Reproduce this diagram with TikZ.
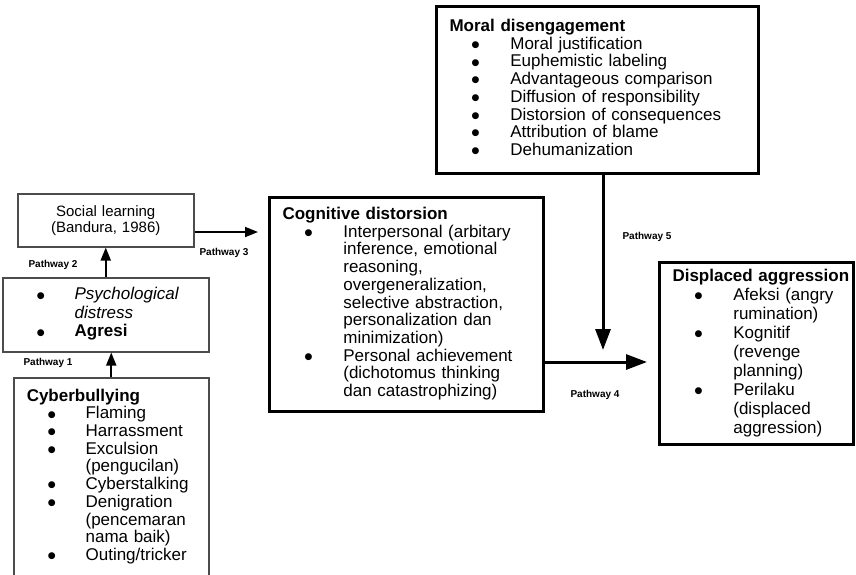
\documentclass[tikz,border=0pt]{standalone}
\usepackage{fontspec}
\setmainfont{Liberation Sans}
\newfontfamily\symfont{DejaVu Sans}
\usetikzlibrary{arrows.meta}

\newcommand{\mainsize}{\fontsize{17}{17.7}\selectfont}
\newcommand{\bul}{\raisebox{1.8pt}{\symfont\fontsize{9}{10}\selectfont ●}}

\begin{document}
\begin{tikzpicture}[x=1pt,y=-1pt]
\tikzstyle{thinbox} = [rectangle, draw=black!70, line width=1.5pt, anchor=north west, inner xsep=13pt, inner ysep=0pt, align=left, font=\mainsize]
\tikzstyle{thickbox} = [rectangle, draw=black, line width=3pt, anchor=north west, inner xsep=13pt, inner ysep=0pt, align=left, font=\mainsize]
\tikzstyle{arrow} = [line width=1.8pt, -{Triangle[length=13pt,width=10pt]}]
\tikzstyle{bigarrow} = [line width=3pt, -{Triangle[length=21pt,width=15pt]}]
\tikzstyle{pathlabel} = [inner sep=0pt, font=\fontsize{10}{12}\selectfont\bfseries]

\useasboundingbox (0,0) rectangle (856,574);
\clip (0,0) rectangle (856,574);

% Nodes
\node (social) [thinbox, align=center, text width=150pt, minimum height=53pt, font=\fontsize{15}{16}\selectfont] at (17,193) {Social learning\\(Bandura, 1986)};
\node (psych) [thinbox, text width=180pt, minimum height=74pt, font=\fontsize{17}{18.5}\selectfont] at (2,277) {%
\begin{tabular}{@{\hspace{21pt}}l@{\hspace{30pt}}l@{}}
\bul & \textit{Psychological}\\
 & \textit{distress}\\
\bul & \textbf{Agresi}
\end{tabular}};
\node (cyber) [thinbox, text width=169pt, minimum height=199pt] at (13,377) {%
\begin{tabular}{@{\hspace{21pt}}l@{\hspace{30pt}}l@{}}
\multicolumn{2}{@{}l@{}}{\textbf{Cyberbullying}}\\
\bul & Flaming\\
\bul & Harrassment\\
\bul & Exculsion\\
 & (pengucilan)\\
\bul & Cyberstalking\\
\bul & Denigration\\
 & (pencemaran\\
 & nama baik)\\
\bul & Outing/tricker
\end{tabular}};
\node (cog) [thickbox, text width=248pt, minimum height=214pt] at (268,196) {%
\begin{tabular}{@{\hspace{22pt}}l@{\hspace{31pt}}l@{}}
\multicolumn{2}{@{}l@{}}{\textbf{Cognitive distorsion}}\\
\bul & Interpersonal (arbitary\\
 & inference, emotional\\
 & reasoning,\\
 & overgeneralization,\\
 & selective abstraction,\\
 & personalization dan\\
 & minimization)\\
\bul & Personal achievement\\
 & (dichotomus thinking\\
 & dan catastrophizing)
\end{tabular}};
\node (moral) [thickbox, text width=296pt, minimum height=167pt] at (435,5) {%
\begin{tabular}{@{\hspace{22pt}}l@{\hspace{31pt}}l@{}}
\multicolumn{2}{@{}l@{}}{\textbf{Moral disengagement}}\\
\bul & Moral justification\\
\bul & Euphemistic labeling\\
\bul & Advantageous comparison\\
\bul & Diffusion of responsibility\\
\bul & Distorsion of consequences\\
\bul & Attribution of blame\\
\bul & Dehumanization
\end{tabular}};
\node (displaced) [thickbox, text width=168pt, minimum height=182pt, font=\fontsize{17}{19}\selectfont] at (658,261) {%
\begin{tabular}{@{\hspace{22pt}}l@{\hspace{31pt}}l@{}}
\multicolumn{2}{@{}l@{}}{\textbf{Displaced aggression}}\\
\bul & Afeksi (angry\\
 & rumination)\\
\bul & Kognitif\\
 & (revenge\\
 & planning)\\
\bul & Perilaku\\
 & (displaced\\
 & aggression)
\end{tabular}};

\coordinate (p3end) at (258,232);
\coordinate (p4end) at (647,362);
\coordinate (p5end) at (603,350);

\node (lab1) [pathlabel] at (48,363) {Pathway 1};
\node (lab2) [pathlabel] at (53,265) {Pathway 2};
\node (lab3) [pathlabel] at (224,253) {Pathway 3};
\node (lab4) [pathlabel] at (595,395) {Pathway 4};
\node (lab5) [pathlabel] at (647,237) {Pathway 5};

% Arrows
\draw [arrow] (cyber.north) -- (cyber.north |- psych.south);
\draw [arrow] (psych.north) -- (psych.north |- social.south);
\draw [arrow] (social.east |- p3end) -- (p3end);
\draw [bigarrow] (cog.east |- p4end) -- (p4end);
\draw [bigarrow] (moral.south -| p5end) -- (p5end);

\end{tikzpicture}
\end{document}
